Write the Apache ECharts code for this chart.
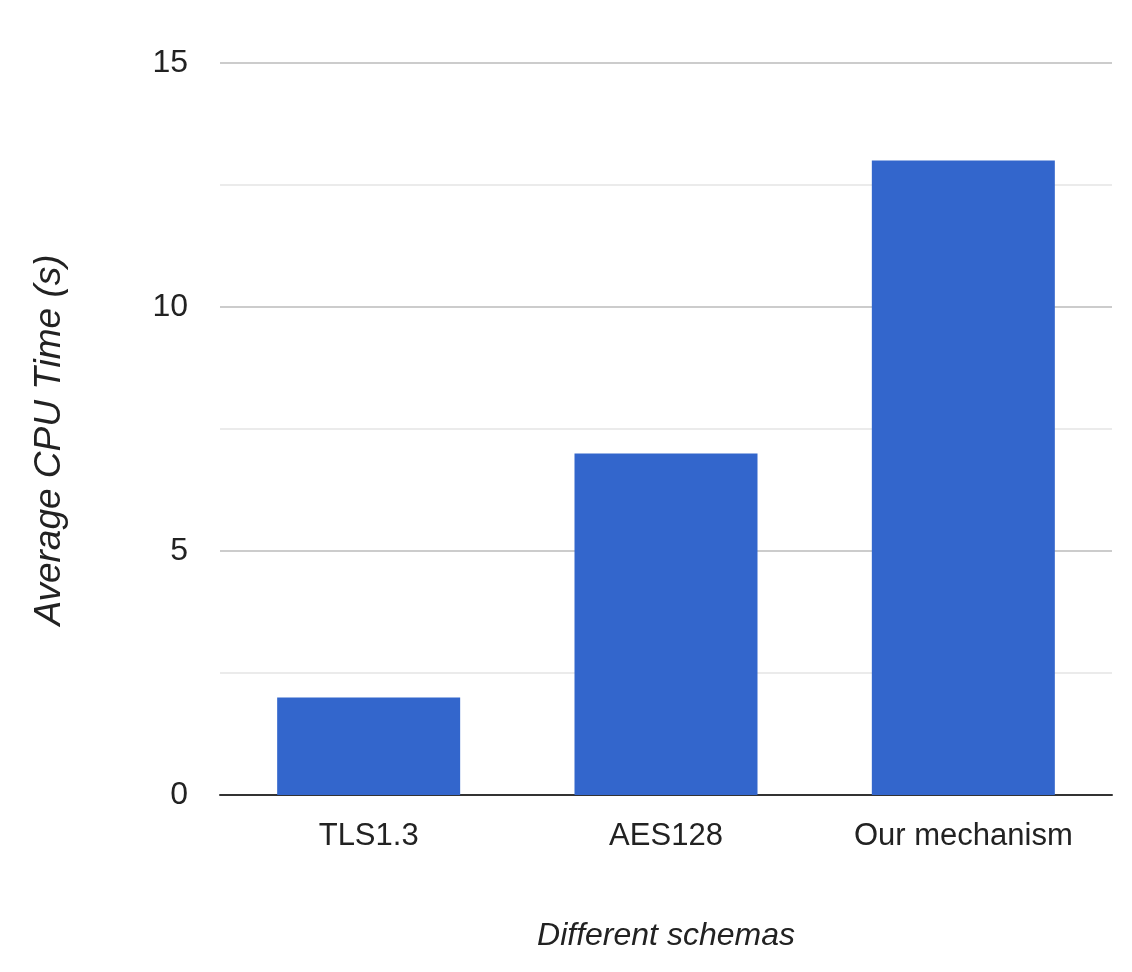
<!DOCTYPE html>
<html>
<head>
<meta charset="utf-8">
<script src="https://cdn.jsdelivr.net/npm/echarts@6/dist/echarts.min.js"></script>
<style>
html, body { margin: 0; padding: 0; background: #fff; }
#main { width: 1132px; height: 972px; }
</style>
</head>
<body>
<div id="main"></div>
<script>
// 数据
var schemas = ['TLS1.3', 'AES128', 'Our mechanism'];
var cpuTime = [2, 7, 13];
var yTicks = [0, 5, 10, 15];

var font = '"Liberation Sans", Arial, sans-serif';
var myChart = echarts.init(document.getElementById('main'));
var option = {
    backgroundColor: '#fff',
    textStyle: { fontFamily: font },
    grid: {
        left: 220,
        right: 20,
        top: 63,
        bottom: 177
    },
    xAxis: {
        type: 'category',
        data: schemas,
        name: 'Different schemas',
        nameLocation: 'middle',
        nameGap: 125,
        nameTextStyle: { fontSize: 32, fontStyle: 'italic', color: '#222' },
        axisLine: { lineStyle: { color: '#333', width: 2 } },
        axisTick: { show: false },
        axisLabel: { fontSize: 31, color: '#222', margin: 26, interval: 0 }
    },
    yAxis: {
        type: 'value',
        min: yTicks[0],
        max: yTicks[yTicks.length - 1],
        interval: 5,
        name: 'Average CPU Time (s)',
        nameLocation: 'middle',
        nameGap: 152,
        nameTextStyle: { fontSize: 37, fontStyle: 'italic', color: '#222', padding: [0, 22, 0, 0] },
        axisLine: { show: false },
        axisTick: { show: false },
        axisLabel: { fontSize: 32, color: '#222', margin: 32 },
        splitLine: { lineStyle: { color: '#cccccc', width: 2 } },
        minorTick: { show: false, splitNumber: 2 },
        minorSplitLine: { show: true, lineStyle: { color: '#ebebeb', width: 2 } }
    },
    series: [{
        type: 'bar',
        data: cpuTime,
        barWidth: 183,
        itemStyle: { color: '#3366cc' }
    }]
};
myChart.setOption(option);
</script>
</body>
</html>
